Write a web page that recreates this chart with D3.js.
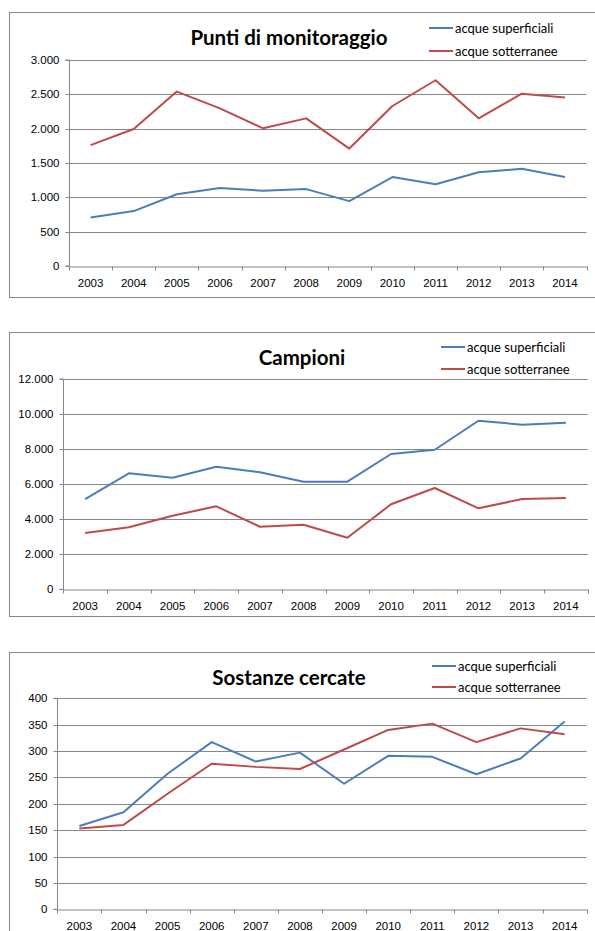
<!DOCTYPE html>
<html>
<head>
<meta charset="utf-8">
<script src="https://cdn.jsdelivr.net/npm/d3@7"></script>
<style>
  body { margin: 0; background: #fff; }
  svg { display: block; font-family: Lato, "Open Sans", sans-serif; }
</style>
</head>
<body>
<script>
// shared categories
const years = ['2003', '2004', '2005', '2006', '2007', '2008', '2009', '2010', '2011', '2012', '2013', '2014']
const seriesNames = ['acque superficiali', 'acque sotterranee']

// Punti di monitoraggio
const puntiSuperficiali = [705, 800, 1045, 1135, 1095, 1120, 945, 1295, 1190, 1365, 1415, 1295]
const puntiSotterranee = [1760, 1995, 2540, 2295, 2005, 2150, 1710, 2330, 2705, 2150, 2510, 2455]
const puntiTicks = [0, 500, 1000, 1500, 2000, 2500, 3000]

// Campioni
const campioniSuperficiali = [5140, 6620, 6365, 6995, 6675, 6140, 6140, 7720, 7965, 9620, 9390, 9505]
const campioniSotterranee = [3210, 3540, 4200, 4735, 3570, 3685, 2945, 4850, 5780, 4620, 5150, 5210]
const campioniTicks = [0, 2000, 4000, 6000, 8000, 10000, 12000]

// Sostanze cercate
const sostanzeSuperficiali = [158, 184, 257, 317, 280, 297, 238, 291, 289, 256, 286, 356]
const sostanzeSotterranee = [153, 160, 219, 276, 270, 266, 303, 340, 352, 317, 343, 332]
const sostanzeTicks = [0, 50, 100, 150, 200, 250, 300, 350, 400]

const colors = ['#4a7ebb', '#be4b48']
const grey = '#868686'

const W = 595
const H = 931

const it = d3.formatLocale({ decimal: ',', thousands: '.', grouping: [3], currency: ['', ' €'] })
const fmt = it.format(',d')

const svg = d3.select('body')
    .append('svg')
    .attr('width', W)
    .attr('height', H)

function drawChart(c) {
    const g = svg.append('g')

    // outer frame (right side runs off the page)
    g.append('rect')
        .attr('x', 9.5)
        .attr('y', c.boxTop + 0.5)
        .attr('width', 620)
        .attr('height', c.boxBottom - c.boxTop)
        .attr('fill', 'none')
        .attr('stroke', grey)
        .attr('stroke-width', 1)

    const x = d3.scaleBand()
        .domain(years)
        .range([c.left, c.right])

    const y = d3.scaleLinear()
        .domain([0, d3.max(c.ticks)])
        .range([c.bottom, c.top])

    // gridlines
    g.append('g')
        .selectAll('line')
        .data(c.ticks.slice(1))
        .enter()
        .append('line')
        .attr('x1', c.left)
        .attr('x2', c.right)
        .attr('y1', d => Math.round(y(d)) + 0.5)
        .attr('y2', d => Math.round(y(d)) + 0.5)
        .attr('stroke', grey)

    // y axis
    const yAxis = d3.axisLeft(y)
        .tickValues(c.ticks)
        .tickFormat(fmt)
        .tickSize(4)
        .tickPadding(6)

    const ya = g.append('g')
        .attr('transform', `translate(${Math.round(c.left) + 0.5},0)`)
        .call(yAxis)
    ya.select('.domain').attr('stroke', grey).attr('d', `M-4,${c.bottom}H0V${c.top}H-4`)
    ya.selectAll('.tick').attr('transform', d => `translate(0,${Math.round(y(d)) + 0.5})`)
    ya.selectAll('.tick line').attr('stroke', grey)
    ya.selectAll('.tick text')
        .attr('fill', '#000')
        .style('font-size', '11.5px')

    // x axis: labels at band centres, tick marks on band edges
    const xAxis = d3.axisBottom(x)
        .tickSize(0)
        .tickPadding(12)

    const xa = g.append('g')
        .attr('transform', `translate(0,${Math.round(c.bottom) + 0.5})`)
        .call(xAxis)
    xa.select('.domain').attr('stroke', grey)
    xa.selectAll('.tick text')
        .attr('fill', '#000')
        .style('font-size', '11.5px')

    const edges = years.map(d => x(d)).concat([c.right])
    xa.selectAll('.edge')
        .data(edges)
        .enter()
        .append('line')
        .attr('class', 'edge')
        .attr('x1', d => Math.round(d) + 0.5)
        .attr('x2', d => Math.round(d) + 0.5)
        .attr('y1', 0)
        .attr('y2', 4)
        .attr('stroke', grey)

    // series lines
    const line = d3.line()
        .x((d, i) => x(years[i]) + x.bandwidth() / 2)
        .y(d => y(d))

    c.series.forEach((s, i) => {
        g.append('path')
            .datum(s)
            .attr('d', line)
            .attr('fill', 'none')
            .attr('stroke', colors[i])
            .attr('stroke-width', 2)
            .attr('stroke-linejoin', 'round')
    })

    // title
    g.append('text')
        .attr('x', c.titleX)
        .attr('y', c.titleY)
        .attr('text-anchor', 'middle')
        .style('font-size', '20.5px')
        .style('font-weight', 'bold')
        .text(c.title)

    // legend
    seriesNames.forEach((n, i) => {
        const ly = c.legendY + i * c.legendGap
        g.append('line')
            .attr('x1', c.legendX)
            .attr('x2', c.legendX + 24)
            .attr('y1', ly)
            .attr('y2', ly)
            .attr('stroke', colors[i])
            .attr('stroke-width', 2)
        g.append('text')
            .attr('x', c.legendX + 26)
            .attr('y', ly + 4.5)
            .style('font-size', '13px')
            .text(n)
    })
}

drawChart({
    title: 'Punti di monitoraggio',
    titleX: 289, titleY: 44.5,
    boxTop: 12, boxBottom: 297,
    left: 69, right: 586.5, top: 60, bottom: 266,
    ticks: puntiTicks,
    series: [puntiSuperficiali, puntiSotterranee],
    legendX: 429, legendY: 28, legendGap: 23
})

drawChart({
    title: 'Campioni',
    titleX: 302, titleY: 364.5,
    boxTop: 332, boxBottom: 616,
    left: 63.3, right: 587.7, top: 379, bottom: 589.3,
    ticks: campioniTicks,
    series: [campioniSuperficiali, campioniSotterranee],
    legendX: 441, legendY: 347, legendGap: 22
})

drawChart({
    title: 'Sostanze cercate',
    titleX: 289, titleY: 684.5,
    boxTop: 652, boxBottom: 950,
    left: 57.3, right: 586.7, top: 698.3, bottom: 909.3,
    ticks: sostanzeTicks,
    series: [sostanzeSuperficiali, sostanzeSotterranee],
    legendX: 432, legendY: 666, legendGap: 21
})
</script>
</body>
</html>
